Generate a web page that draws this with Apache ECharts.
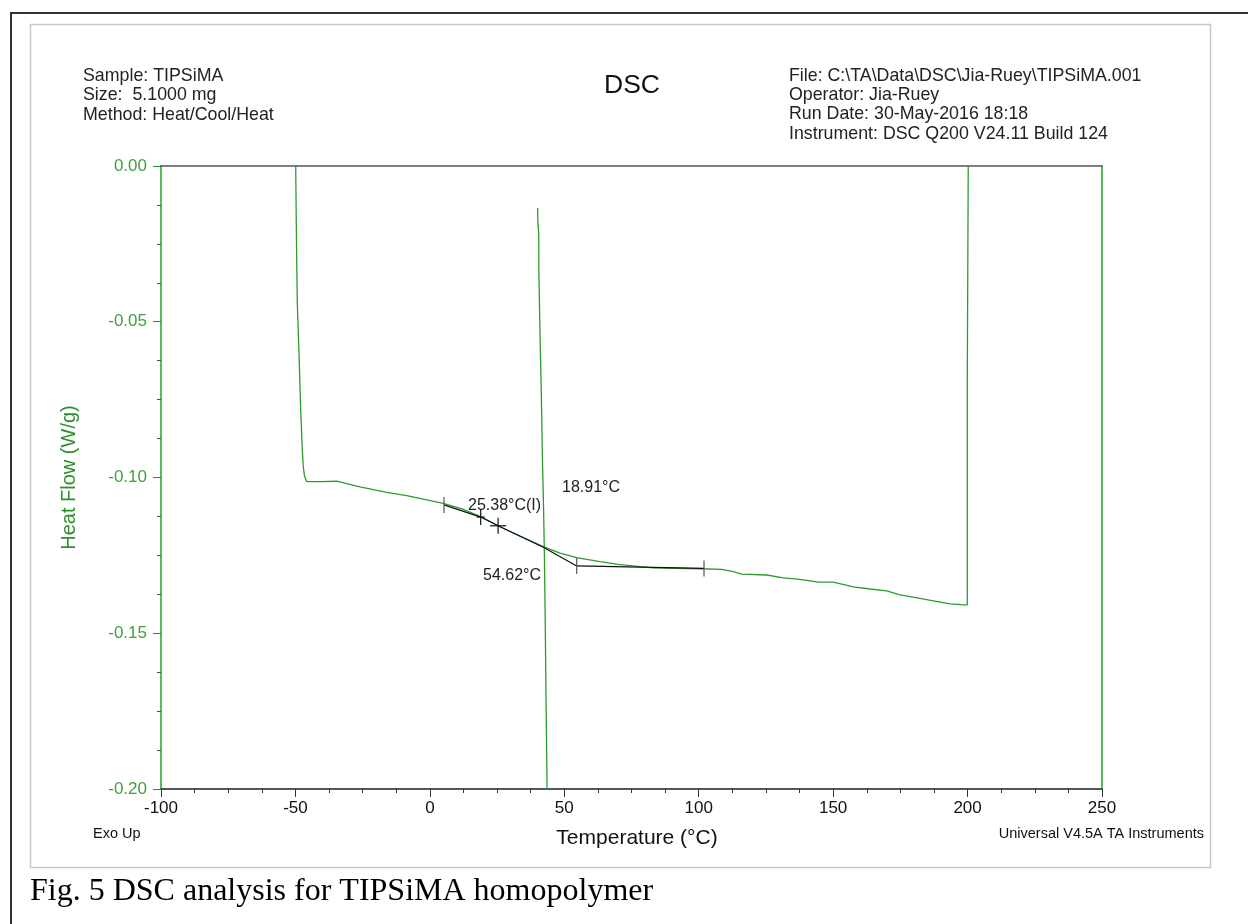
<!DOCTYPE html>
<html><head><meta charset="utf-8">
<script src="https://cdn.jsdelivr.net/npm/echarts@6/dist/echarts.min.js"></script>
<style>html,body{margin:0;padding:0;background:#fff}#c{width:1248px;height:924px}</style>
</head><body><div id="c"></div>
<script>
// ---- data (Temperature °C, Heat Flow W/g) ----
const heatingCurve = [
  [-49.95, 0.01], [-49.9, 0.0], [-49.53, -0.0302], [-49.3, -0.044], [-48.56, -0.0632],
  [-48.04, -0.0783], [-47.44, -0.0912], [-47.07, -0.0966], [-46.63, -0.0995],
  [-45.81, -0.1013], [-40.86, -0.1013], [-34.65, -0.1012], [-25.98, -0.1030],
  [-16.05, -0.1048], [-8.61, -0.1058], [-1.17, -0.1072], [5.0, -0.1083],
  [11.96, -0.1101], [19.28, -0.1127], [26.09, -0.1158], [33.53, -0.1188],
  [42.19, -0.1222], [48.41, -0.1243], [55.0, -0.1258], [63.29, -0.1270], [70.0, -0.1279],
  [78.16, -0.1286], [83.0, -0.1290], [100.48, -0.1293], [108.55, -0.1295],
  [112.87, -0.1302], [115.99, -0.1310], [125.29, -0.1313], [131.46, -0.1322],
  [137.67, -0.1327], [144.48, -0.1336], [150.05, -0.1336], [157.49, -0.1351],
  [163.71, -0.1358], [169.92, -0.1364], [174.86, -0.1377], [182.30, -0.1388],
  [187.25, -0.1396], [193.46, -0.1406], [198.78, -0.1409], [199.9, -0.1409],
  [199.9, -0.0684], [200.25, -0.0684], [200.25, 0.0], [200.25, 0.01]
];
const coolingCurve = [
  [40.1, -0.0135], [40.15, -0.0175], [40.5, -0.0220], [40.55, -0.0345],
  [41.0, -0.0550], [41.5, -0.0750], [41.9, -0.0950], [42.3, -0.1100],
  [42.6, -0.1250], [42.9, -0.1450], [43.2, -0.1700], [43.6, -0.2000], [43.65, -0.21]
];
const analysisLine = [
  [5.26, -0.1088], [18.91, -0.1127], [25.38, -0.1155], [42.2, -0.1224],
  [54.62, -0.1284], [101.97, -0.1292]
];
const analysisMarkers = [ // [T, HF, kind] kind: 0 = tick, 1 = small cross, 2 = cross
  [5.26, -0.1088, 0], [18.91, -0.1127, 1], [25.38, -0.1155, 2],
  [54.62, -0.1284, 0], [101.97, -0.1292, 0]
];
const annotations = [ // [T, HF, text]
  [14.2, -0.1091, '25.38°C(I)'], [49.15, -0.1034, '18.91°C'], [19.77, -0.1316, '54.62°C']
];
const headerLeft = ['Sample: TIPSiMA', 'Size:  5.1000 mg', 'Method: Heat/Cool/Heat'];
const headerRight = ['File: C:\\TA\\Data\\DSC\\Jia-Ruey\\TIPSiMA.001', 'Operator: Jia-Ruey',
  'Run Date: 30-May-2016 18:18', 'Instrument: DSC Q200 V24.11 Build 124'];
const chartTitle = 'DSC';
const xName = 'Temperature (°C)';
const yName = 'Heat Flow (W/g)';
const caption = 'Fig. 5 DSC analysis for TIPSiMA homopolymer';

const FONT = '"Liberation Sans", Arial, sans-serif';
const GREEN = '#2e9a2e';
const chart = echarts.init(document.getElementById('c'), null, {renderer: 'canvas'});

const graphics = [
  {type: 'rect', shape: {x: 11, y: 13, width: 1300, height: 1000}, style: {fill: 'none', stroke: '#333', lineWidth: 2}, silent: true},
  {type: 'rect', shape: {x: 30.5, y: 24.5, width: 1180, height: 843}, style: {fill: 'none', stroke: '#c8c8c8', lineWidth: 1.5}, silent: true},
  {type: 'text', x: 632, y: 86, style: {text: chartTitle, font: '26.5px ' + FONT, fill: '#111', textAlign: 'center', textVerticalAlign: 'middle'}},
  {type: 'text', x: 93, y: 834, style: {text: 'Exo Up', font: '14.5px ' + FONT, fill: '#111', textAlign: 'left', textVerticalAlign: 'middle'}},
  {type: 'text', x: 1204, y: 834, style: {text: 'Universal V4.5A TA Instruments', font: '14.5px ' + FONT, fill: '#111', textAlign: 'right', textVerticalAlign: 'middle'}},
  {type: 'text', x: 30, y: 892, style: {text: caption, font: '32px "Liberation Serif", "Times New Roman", serif', fill: '#000', textAlign: 'left', textVerticalAlign: 'middle'}}
];
const leftYs = [76, 95.5, 115];
headerLeft.forEach((t, i) => graphics.push({type: 'text', x: 83, y: leftYs[i], style: {text: t, font: '17.8px ' + FONT, fill: '#222', textAlign: 'left', textVerticalAlign: 'middle'}}));
const rightYs = [76, 95, 114.5, 134];
headerRight.forEach((t, i) => graphics.push({type: 'text', x: 789, y: rightYs[i], style: {text: t, font: '17.8px ' + FONT, fill: '#222', textAlign: 'left', textVerticalAlign: 'middle'}}));

const option = {
  animation: false,
  backgroundColor: '#fff',
  grid: {left: 161, right: 146, top: 166, bottom: 135, containLabel: false},
  xAxis: [{
    type: 'value', min: -100, max: 250, interval: 50, position: 'bottom',
    name: xName, nameLocation: 'middle', nameGap: 39,
    nameTextStyle: {fontSize: 21, color: '#111', fontFamily: FONT, padding: [0, 0, 0, 11]},
    axisLine: {show: true, onZero: false, lineStyle: {color: '#555', width: 2}},
    axisTick: {show: true, length: 8, lineStyle: {color: '#333', width: 1}},
    minorTick: {show: true, splitNumber: 4, length: 4, lineStyle: {color: '#333', width: 1}},
    axisLabel: {fontSize: 17, color: '#111', fontFamily: FONT, margin: 11},
    splitLine: {show: false}, minorSplitLine: {show: false}
  }, {
    type: 'value', min: -100, max: 250, position: 'top',
    axisLine: {show: true, onZero: false, lineStyle: {color: '#555', width: 1.5}},
    axisTick: {show: false}, axisLabel: {show: false}, splitLine: {show: false}
  }],
  yAxis: [{
    type: 'value', min: -0.2, max: 0, interval: 0.05, position: 'left',
    name: yName, nameLocation: 'middle', nameGap: 82, nameRotate: 90,
    nameTextStyle: {fontSize: 20, color: '#2f8f2f', fontFamily: FONT},
    axisLine: {show: true, onZero: false, lineStyle: {color: '#5cb85c', width: 2}},
    axisTick: {show: true, length: 8, lineStyle: {color: '#2a8a2a', width: 1}},
    minorTick: {show: true, splitNumber: 4, length: 4, lineStyle: {color: '#1f6f1f', width: 1}},
    axisLabel: {fontSize: 17, color: '#3f9f3f', fontFamily: FONT, margin: 14, formatter: v => v.toFixed(2)},
    splitLine: {show: false}, minorSplitLine: {show: false}
  }, {
    type: 'value', min: -0.2, max: 0, position: 'right',
    axisLine: {show: true, onZero: false, lineStyle: {color: '#5cb85c', width: 2}},
    axisTick: {show: false}, axisLabel: {show: false}, splitLine: {show: false}
  }],
  series: [
    {type: 'line', data: heatingCurve, showSymbol: false, symbol: 'none', clip: true,
      lineStyle: {color: GREEN, width: 1.3}, z: 3},
    {type: 'line', data: coolingCurve, showSymbol: false, symbol: 'none', clip: true,
      lineStyle: {color: GREEN, width: 1.3}, z: 3},
    {type: 'line', data: analysisLine, showSymbol: false, symbol: 'none',
      lineStyle: {color: '#111', width: 1.2}, z: 4},
    {type: 'custom', data: analysisMarkers, encode: {x: 0, y: 1}, z: 5,
      renderItem: (params, api) => {
        const p = api.coord([api.value(0), api.value(1)]);
        const kind = api.value(2);
        const children = [{type: 'line', shape: {x1: p[0], y1: p[1] - 8, x2: p[0], y2: p[1] + 8}, style: {stroke: kind === 0 ? '#555' : '#111', lineWidth: 1.2}}];
        if (kind > 0) {
          const h = kind === 1 ? 4 : 8;
          children.push({type: 'line', shape: {x1: p[0] - h, y1: p[1], x2: p[0] + h, y2: p[1]}, style: {stroke: '#111', lineWidth: 1.2}});
        }
        return {type: 'group', children};
      }},
    {type: 'custom', data: annotations.map(a => [a[0], a[1]]), encode: {x: 0, y: 1}, z: 6,
      renderItem: (params, api) => {
        const p = api.coord([api.value(0), api.value(1)]);
        return {type: 'text', x: p[0], y: p[1], style: {text: annotations[params.dataIndex][2], font: '16px ' + FONT, fill: '#222', textAlign: 'left', textVerticalAlign: 'middle'}};
      }}
  ],
  graphic: graphics
};
chart.setOption(option);
</script>
</body></html>
